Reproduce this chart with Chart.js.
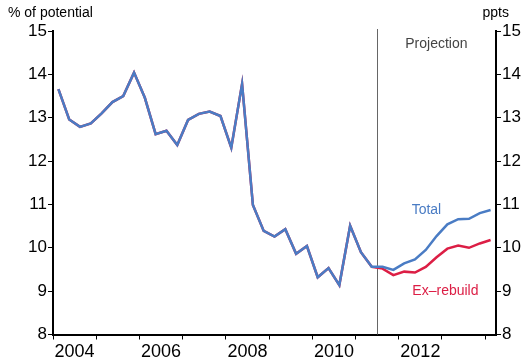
<!DOCTYPE html>
<html>
<head>
<meta charset="utf-8">
<script src="https://cdn.jsdelivr.net/npm/chart.js@4/dist/chart.umd.min.js"></script>
<style>
  html, body { margin: 0; padding: 0; background: #fff; }
  #wrap { width: 522px; height: 358px; position: relative; }
</style>
</head>
<body>
<div id="wrap"><canvas id="gapChart"></canvas></div>
<script>
// Quarters covered by the chart (history to 2011Q2, projection after)
const quarters = [
    '2004Q1', '2004Q2', '2004Q3', '2004Q4',
    '2005Q1', '2005Q2', '2005Q3', '2005Q4',
    '2006Q1', '2006Q2', '2006Q3', '2006Q4',
    '2007Q1', '2007Q2', '2007Q3', '2007Q4',
    '2008Q1', '2008Q2', '2008Q3', '2008Q4',
    '2009Q1', '2009Q2', '2009Q3', '2009Q4',
    '2010Q1', '2010Q2', '2010Q3', '2010Q4',
    '2011Q1', '2011Q2', '2011Q3', '2011Q4',
    '2012Q1', '2012Q2', '2012Q3', '2012Q4',
    '2013Q1', '2013Q2', '2013Q3', '2013Q4',
    '2014Q1'
];

// History, % of potential (2004Q1 - 2011Q2)
const history = [
    13.66, 12.96, 12.79, 12.87, 13.10, 13.36, 13.50, 14.04,
    13.46, 12.62, 12.70, 12.37, 12.95, 13.09, 13.14, 13.04,
    12.31, 13.78, 10.99, 10.39, 10.26, 10.43, 9.86, 10.04,
    9.32, 9.53, 9.14, 10.51, 9.90, 9.56
];

// Projections (2011Q3 - 2014Q1)
const totalProjection = [9.56, 9.49, 9.64, 9.73, 9.95, 10.27, 10.54, 10.66, 10.67, 10.80, 10.87];
const exRebuildProjection = [9.52, 9.37, 9.45, 9.43, 9.56, 9.78, 9.98, 10.05, 10.00, 10.10, 10.18];

const yTicks = [8, 9, 10, 11, 12, 13, 14, 15];
const yearLabels = [2004, 2006, 2008, 2010, 2012];
const projectionStart = 2011.5;

// quarter label -> decimal year at the middle of the quarter
function quarterToX(q) {
    const year = parseInt(q.slice(0, 4));
    const n = parseInt(q.slice(5));
    return year + (n - 1) * 0.25 + 0.125;
}

function toPoints(values) {
    return values.map((v, i) => ({ x: quarterToX(quarters[i]), y: v }));
}

const totalData = toPoints(history.concat(totalProjection));
const exRebuildData = toPoints(history.concat(exRebuildProjection));

const BLUE = '#4a7cc4';
const RED = '#dc1e45';
const FONT = "'Liberation Sans', Arial, sans-serif";

// Draws the projection divider and the text labels
const annotations = {
    id: 'annotations',
    beforeDatasetsDraw(chart) {
        const { ctx, chartArea, scales } = chart;
        const px = scales.x.getPixelForValue(projectionStart);
        ctx.save();
        ctx.strokeStyle = '#666';
        ctx.lineWidth = 1;
        ctx.beginPath();
        ctx.moveTo(Math.round(px) + 0.5, chartArea.top - 2);
        ctx.lineTo(Math.round(px) + 0.5, chartArea.bottom);
        ctx.stroke();
        ctx.restore();
    },
    afterDraw(chart) {
        const { ctx, scales } = chart;
        const x = scales.x, y = scales.y;
        ctx.save();
        ctx.textAlign = 'center';
        ctx.textBaseline = 'middle';
        ctx.font = '14px ' + FONT;
        ctx.fillStyle = '#444';
        ctx.fillText('Projection', x.getPixelForValue(2012.87), y.getPixelForValue(14.7));
        ctx.fillStyle = BLUE;
        ctx.fillText('Total', x.getPixelForValue(2012.64), y.getPixelForValue(10.87));
        ctx.fillStyle = RED;
        ctx.fillText('Ex\u2013rebuild', x.getPixelForValue(2013.08), y.getPixelForValue(9.0));

        ctx.fillStyle = '#000';
        ctx.font = '14px ' + FONT;
        ctx.textAlign = 'left';
        ctx.fillText('% of potential', 8, 13);
        ctx.textAlign = 'right';
        ctx.fillText('ppts', 509, 13);
        ctx.restore();
    }
};

const yAxis = (position, width) => ({
    type: 'linear',
    position: position,
    min: 8,
    max: 15,
    afterBuildTicks: (scale) => { scale.ticks = yTicks.map(v => ({ value: v })); },
    afterFit: (scale) => { scale.width = width; },
    border: { display: true, color: '#000', width: 2 },
    grid: { drawOnChartArea: false, drawTicks: true, tickLength: 5, color: '#000', lineWidth: 1 },
    ticks: { color: '#000', padding: 1, font: { family: FONT, size: 17 } }
});

const config = {
    type: 'line',
    data: {
        datasets: [
            {
                label: 'Total',
                data: totalData,
                borderColor: BLUE,
                borderWidth: 2.5,
                pointRadius: 0,
                tension: 0
            },
            {
                label: 'Ex-rebuild',
                data: exRebuildData,
                borderColor: RED,
                borderWidth: 2.5,
                pointRadius: 0,
                tension: 0
            }
        ]
    },
    options: {
        responsive: true,
        maintainAspectRatio: false,
        animation: false,
        layout: { padding: { top: 31, left: 0, right: 0, bottom: 0 } },
        plugins: { legend: { display: false }, tooltip: { enabled: false } },
        scales: {
            x: {
                type: 'linear',
                min: 2004,
                max: 2014.25,
                afterBuildTicks: (scale) => {
                    const ticks = [];
                    for (let v = 2004; v <= 2014; v += 0.5) ticks.push({ value: v });
                    scale.ticks = ticks;
                },
                afterFit: (scale) => { scale.height = 23.5; },
                border: { display: true, color: '#000', width: 2 },
                grid: {
                    drawOnChartArea: false,
                    tickLength: 5,
                    lineWidth: 1,
                    tickColor: (c) => (c.tick && Number.isInteger(c.tick.value)) ? '#000' : 'rgba(0,0,0,0)'
                },
                ticks: {
                    autoSkip: false,
                    maxRotation: 0,
                    padding: 2,
                    color: '#000',
                    font: { family: FONT, size: 18 },
                    callback: (v) => yearLabels.includes(v - 0.5) ? String(v - 0.5) : ''
                }
            },
            y: yAxis('left', 53),
            y2: yAxis('right', 26)
        }
    },
    plugins: [annotations]
};

const gapCtx = document.getElementById('gapChart').getContext('2d');
const gapChart = new Chart(gapCtx, config);
</script>
</body>
</html>
